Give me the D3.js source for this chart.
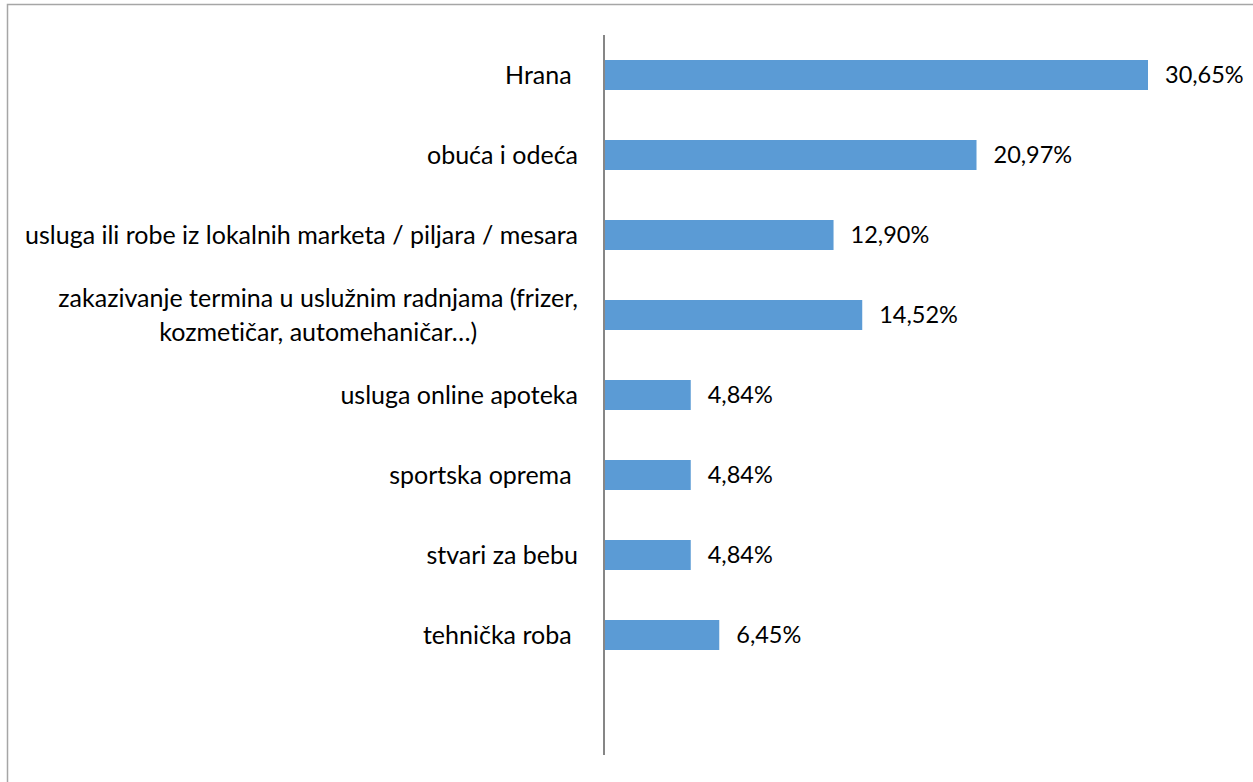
<!DOCTYPE html>
<html>
<head>
<meta charset="utf-8">
<script src="https://cdn.jsdelivr.net/npm/d3@7/dist/d3.min.js"></script>
<style>
  html, body { margin: 0; padding: 0; background: #fff; }
  svg { display: block; }
  text { font-family: Lato, "Open Sans", sans-serif; fill: #000; white-space: pre; font-variant-ligatures: none; }
</style>
</head>
<body>
<svg id="chart" width="1253" height="782"></svg>
<script>
// Categories (top to bottom); a category label may hold several lines
const categories = [
  ["Hrana "],
  ["obuća i odeća"],
  ["usluga ili robe iz lokalnih marketa / piljara / mesara"],
  ["zakazivanje termina u uslužnim radnjama (frizer,", "kozmetičar, automehaničar…)"],
  ["usluga online apoteka"],
  ["sportska oprema "],
  ["stvari za bebu"],
  ["tehnička roba "]
];
// Share of respondents, in percent
const values = [30.65, 20.97, 12.90, 14.52, 4.84, 4.84, 4.84, 6.45];
// Labels as printed next to each bar
const valueLabels = ["30,65%", "20,97%", "12,90%", "14,52%", "4,84%", "4,84%", "4,84%", "6,45%"];

const svg = d3.select("#chart");
const W = 1253, H = 782;

// chart area frame
svg.append("rect")
  .attr("x", 7.5).attr("y", 4.5)
  .attr("width", W + 20).attr("height", H + 20)
  .attr("fill", "none").attr("stroke", "#a6a6a6").attr("stroke-width", 1.5);

const x0 = 605;
const plotTop = 35;
const slot = 80;
const nSlots = categories.length + 1; // one empty slot below the last bar

const x = d3.scaleLinear().domain([0, 30.65]).range([x0, 1148]);
const keys = d3.range(nSlots);
const y = d3.scaleBand().domain(keys).range([plotTop, plotTop + slot * nSlots]).paddingInner(0.625).paddingOuter(0.3125);

const data = values.map((v, i) => ({ i, v, label: valueLabels[i], cat: categories[i] }));

// bars
svg.append("g").selectAll("rect")
  .data(data).join("rect")
  .attr("x", x(0))
  .attr("y", d => y(d.i))
  .attr("width", d => x(d.v) - x(0))
  .attr("height", y.bandwidth())
  .attr("fill", "#5b9bd5");

// vertical category axis
const axis = d3.axisLeft(y).tickSize(0).tickFormat("");
const axG = svg.append("g").attr("transform", `translate(${x0 - 1},0)`).call(axis);
axG.select(".domain").attr("stroke", "#868686").attr("stroke-width", 2)
  .attr("d", `M0,${plotTop}V${plotTop + slot * nSlots}`);

const catFs = 25;
const valFs = 23.5;
// category labels, right-aligned block, lines centered within the block
const catG = svg.append("g");
data.forEach(d => {
  const cy = y(d.i) + y.bandwidth() / 2;
  const n = d.cat.length;
  const lh = 34;
  const g = catG.append("g");
  const texts = d.cat.map((line, k) =>
    g.append("text")
      .attr("font-size", catFs)
      .attr("dy", "0.36em")
      .attr("y", cy + (k - (n - 1) / 2) * lh)
      .text(line));
  const widths = texts.map(t => t.node().getComputedTextLength());
  const maxW = d3.max(widths);
  const right = 578;
  texts.forEach(t => {
    t.attr("x", right - maxW / 2).attr("text-anchor", "middle");
  });
});

// value labels
svg.append("g").selectAll("text")
  .data(data).join("text")
  .attr("x", d => x(d.v) + 17)
  .attr("y", d => y(d.i) + y.bandwidth() / 2)
  .attr("dy", "0.36em")
  .attr("font-size", valFs)
  .text(d => d.label);
</script>
</body>
</html>
